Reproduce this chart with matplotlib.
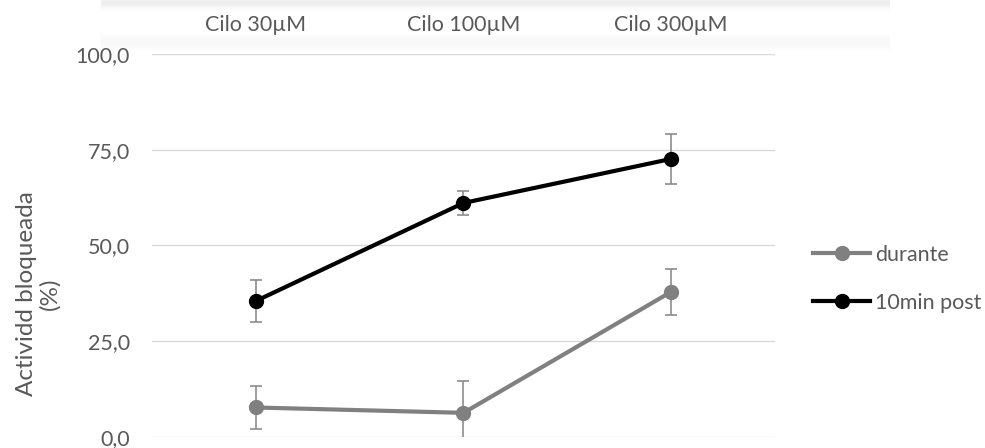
import numpy as np
import matplotlib
matplotlib.use("Agg")
import matplotlib.pyplot as plt
from matplotlib.ticker import FuncFormatter

categories = ["Cilo 30µM", "Cilo 100µM", "Cilo 300µM"]
durante = [7.7, 6.3, 37.9]
durante_err = [5.5, 8.3, 6.0]
post = [35.5, 61.1, 72.6]
post_err = [5.4, 3.2, 6.6]
yticks = [0, 25, 50, 75, 100]

TXT = "#595959"
plt.rcParams["font.family"] = ["Lato", "DejaVu Sans"]

fig = plt.figure(figsize=(9.85, 4.48), dpi=100)

# faint blurred band at top (as in the screenshot)
bg = fig.add_axes([0, 0, 1, 1], zorder=-10)
bg.axis("off")
h = 448
grad = np.ones((h, 985))
rows = np.arange(h)
band = 1 - 0.07 * np.exp(-((rows - 3) / 5.0) ** 2) - 0.03 * np.exp(-((rows - 42) / 7.0) ** 2)
grad = grad * band[:, None]
cols = np.arange(985)
mask = (cols > 100) & (cols < 890)
grad[:, ~mask] = 1
bg.imshow(grad, cmap="gray", vmin=0, vmax=1, aspect="auto", extent=[0, 1, 0, 1])
bg.set_xlim(0, 1)
bg.set_ylim(0, 1)

ax = fig.add_axes([0.1543, 0.0246, 0.6325, 0.8549])
x = np.arange(len(categories))

ax.errorbar(x, durante, yerr=durante_err, fmt="none", ecolor="#8c8c8c",
            elinewidth=1.2, capsize=4, capthick=1.2, zorder=2)
ax.errorbar(x, post, yerr=post_err, fmt="none", ecolor="#8c8c8c",
            elinewidth=1.2, capsize=4, capthick=1.2, zorder=2)
ax.plot(x, durante, color="#808080", lw=3, marker="o", ms=10, label="durante", zorder=3)
ax.plot(x, post, color="#000000", lw=3, marker="o", ms=10, label="10min post", zorder=4)

ax.set_xlim(-0.5, 2.5)
ax.set_ylim(0, 100)
ax.set_yticks(yticks)
ax.yaxis.set_major_formatter(FuncFormatter(lambda v, p: f"{v:.1f}".replace(".", ",")))
ax.grid(axis="y", color="#d9d9d9", lw=1)
ax.set_axisbelow(True)
for s in ax.spines.values():
    s.set_visible(False)
ax.tick_params(axis="y", length=0, pad=16, labelsize=15.5, labelcolor=TXT)

ax.xaxis.tick_top()
ax.set_xticks(x)
ax.set_xticklabels(categories)
ax.tick_params(axis="x", length=0, pad=14, labelsize=15.5, labelcolor=TXT)

fig.text(0.039, 0.344, "Actividd bloqueada\n(%)", rotation=90, ha="center", va="center",
         fontsize=17.5, color=TXT, linespacing=1.1)

fig.legend(loc="center left", bbox_to_anchor=(0.8254, 0.378), frameon=False,
           fontsize=15.5, labelcolor=TXT, handlelength=2.65, handletextpad=0.23,
           labelspacing=1.3, borderpad=0, borderaxespad=0)

fig.savefig("out.png", dpi=100)
